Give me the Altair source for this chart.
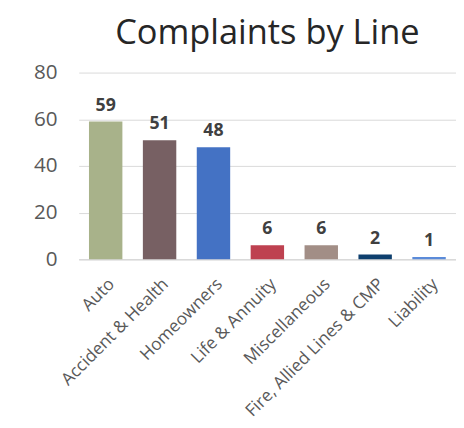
import altair as alt
import pandas as pd

lines = ["Auto", "Accident & Health", "Homeowners", "Life & Annuity",
         "Miscellaneous", "Fire, Allied Lines & CMP", "Liability"]
complaints = [59, 51, 48, 6, 6, 2, 1]
colors = ["#A8B28A", "#776063", "#4472C4", "#BE4150", "#A28E86", "#0E3F6E", "#5B8BD9"]

df = pd.DataFrame({"line": lines, "complaints": complaints})

x = alt.X("line:N", sort=lines, title=None,
          scale=alt.Scale(paddingInner=0.38, paddingOuter=0.19),
          axis=alt.Axis(labelAngle=-45, labelFont="Open Sans", labelFontSize=17.5,
                        labelColor="#595959", ticks=False, domain=True,
                        domainColor="#D9D9D9", domainWidth=1.5, labelPadding=16,
                        labelLimit=400))
y = alt.Y("complaints:Q", title=None,
          scale=alt.Scale(domain=[0, 80]),
          axis=alt.Axis(values=[0, 20, 40, 60, 80], labelFont="Open Sans",
                        labelFontSize=21, labelColor="#595959", ticks=False,
                        domain=False, gridColor="#D9D9D9", gridWidth=1,
                        labelPadding=22))

bars = alt.Chart(df).mark_bar().encode(
    x=x, y=y,
    color=alt.Color("line:N", sort=lines,
                    scale=alt.Scale(domain=lines, range=colors), legend=None),
)
text = alt.Chart(df).mark_text(
    font="Open Sans", fontSize=18, fontWeight="bold", color="#404040",
    baseline="bottom", dy=-7,
).encode(x=alt.X("line:N", sort=lines), y="complaints:Q", text="complaints:Q")

chart = (bars + text).properties(
    width=384, height=190,
    autosize=alt.AutoSizeParams(type="none"),
    padding={"left": 72, "top": 62, "right": 0, "bottom": 166},
    title=alt.TitleParams("Complaints by Line", font="Open Sans", fontSize=35,
                          fontWeight="normal", color="#262626", anchor="middle",
                          offset=11),
).configure_view(stroke=None)

chart.save("out.html", embed_options={"renderer": "svg", "actions": False})
